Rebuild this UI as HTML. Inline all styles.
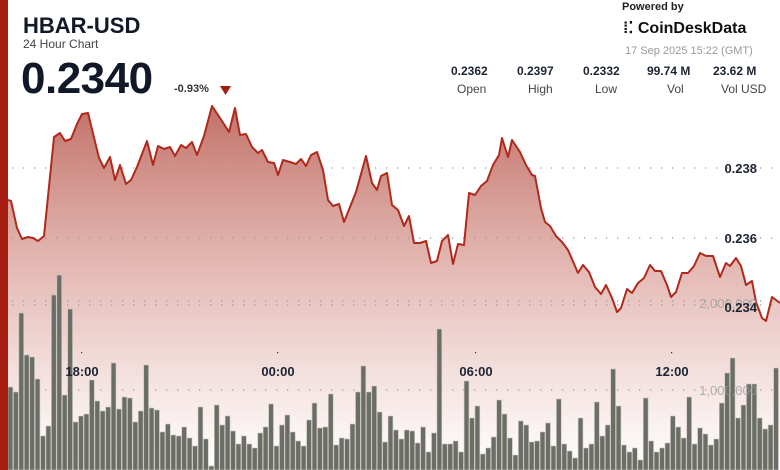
<!DOCTYPE html><html><head><style>
body{margin:0;width:780px;height:470px;overflow:hidden;background:#fff;font-family:"Liberation Sans",sans-serif;position:relative}
.t{position:absolute;white-space:nowrap}
</style></head><body>
<svg width="780" height="470" style="position:absolute;left:0;top:0">
<defs>
<linearGradient id="g" gradientUnits="userSpaceOnUse" x1="0" y1="100" x2="0" y2="470">
<stop offset="0" stop-color="#b5554a" stop-opacity="0.85"/>
<stop offset="0.45" stop-color="#d89a92" stop-opacity="0.7"/>
<stop offset="1" stop-color="#ffffff" stop-opacity="0.6"/>
</linearGradient>
</defs>
<g id="area"></g>
<g stroke="#999" stroke-width="1.3" stroke-dasharray="1.3 9.7" fill="none">
<line x1="12" y1="168" x2="780" y2="168"/>
<line x1="12" y1="238" x2="780" y2="238"/>
<line x1="12" y1="301" x2="780" y2="301"/>
<line x1="12" y1="305" x2="780" y2="305"/>
<line x1="12" y1="390" x2="780" y2="390"/>
</g>
<g id="bars" fill="#6b6e66" stroke="#c9c4bf" stroke-width="0.6"></g>
<path id="ln" fill="none" stroke="#b0291d" stroke-width="2" stroke-linejoin="round"/>
<g fill="#999" font-size="13" font-family="Liberation Sans,sans-serif" text-anchor="end" opacity="0.75">
<text x="757" y="308">2,000,000</text>
<text x="757" y="395">1,000,000</text>
</g>
<g fill="#1c2433" font-size="13" font-weight="bold" font-family="Liberation Sans,sans-serif" text-anchor="end">
<text x="757" y="173">0.238</text>
<text x="757" y="243">0.236</text>
<text x="757" y="312">0.234</text>
</g>
<g fill="#1c2433" font-size="13" font-weight="bold" font-family="Liberation Sans,sans-serif" text-anchor="middle">
<text x="82" y="376">18:00</text><text x="278" y="376">00:00</text><text x="476" y="376">06:00</text><text x="672" y="376">12:00</text>
</g>
<g fill="#333"><rect x="81" y="352" width="1.2" height="1.2"/><rect x="277" y="352" width="1.2" height="1.2"/><rect x="475" y="352" width="1.2" height="1.2"/><rect x="671" y="352" width="1.2" height="1.2"/></g>
<rect x="0" y="0" width="8" height="470" fill="#a51c10"/>
<path d="M220 86 L231 86 L225.5 95 Z" fill="#a51c10"/>
</svg>
<div class="t" style="left:23px;top:13px;font-size:22px;font-weight:bold;color:#111827">HBAR-USD</div>
<div class="t" style="left:23px;top:37px;font-size:12px;color:#444">24 Hour Chart</div>
<div class="t" style="left:21px;top:54px;font-size:44px;font-weight:bold;color:#111827;letter-spacing:-0.5px">0.2340</div>
<div class="t" style="left:174px;top:83px;font-size:11px;font-weight:bold;color:#333">-0.93%</div>
<div class="t" style="left:622px;top:1px;font-size:11px;font-weight:bold;color:#222">Powered by</div>
<div class="t" style="left:623px;top:18px;font-size:16px;font-weight:bold;color:#111">⁞⁚ CoinDeskData</div>
<div class="t" style="left:625px;top:45px;font-size:11px;color:#999">17 Sep 2025 15:22 (GMT)</div>
<div class="t" style="left:451px;top:64px;font-size:12px;font-weight:bold;color:#1c2433;width:330px">
<span style="position:absolute;left:0">0.2362</span><span style="position:absolute;left:66px">0.2397</span><span style="position:absolute;left:132px">0.2332</span><span style="position:absolute;left:196px">99.74 M</span><span style="position:absolute;left:262px">23.62 M</span></div>
<div class="t" style="left:451px;top:82px;font-size:12px;color:#444;width:330px">
<span style="position:absolute;left:6px">Open</span><span style="position:absolute;left:77px">High</span><span style="position:absolute;left:144px">Low</span><span style="position:absolute;left:216px">Vol</span><span style="position:absolute;left:270px">Vol USD</span></div>
<script>
var p=[[8,200],[11,201],[17,228],[22,239],[28,237],[33,238],[38,241],[44,236],[54,137],[60,133],[65,141],[71,139],[77,124],[82,114],[88,113],[99,158],[104,168],[110,157],[115,180],[120,165],[126,184],[131,180],[137,167],[147,141],[153,165],[158,146],[164,149],[170,147],[175,156],[181,145],[186,148],[192,142],[197,155],[204,136],[212,106],[222,121],[229,132],[235,108],[240,135],[246,134],[252,147],[258,153],[262,150],[268,162],[274,163],[278,175],[283,160],[290,162],[296,164],[301,159],[306,166],[311,155],[317,152],[323,170],[328,200],[333,206],[339,204],[344,222],[348,212],[356,192],[366,156],[372,183],[377,190],[381,176],[387,173],[392,205],[398,210],[404,226],[409,216],[414,243],[420,243],[426,241],[431,263],[437,261],[442,241],[448,235],[453,264],[458,244],[464,245],[469,193],[475,195],[481,186],[487,181],[493,165],[499,155],[502,138],[508,157],[512,140],[520,152],[526,165],[532,175],[535,176],[541,208],[545,222],[550,226],[556,236],[562,242],[568,250],[578,273],[583,265],[589,272],[595,287],[601,294],[606,285],[612,298],[617,312],[621,308],[627,289],[632,293],[638,283],[644,278],[650,265],[655,271],[661,271],[667,285],[671,297],[676,292],[682,273],[688,273],[694,266],[700,253],[706,256],[713,256],[720,277],[726,263],[730,266],[736,258],[741,266],[746,285],[752,281],[756,302],[762,318],[766,321],[772,297],[780,303]];
var d=p.map((q,i)=>(i?'L':'M')+q[0]+' '+q[1]).join(' ');
document.getElementById('ln').setAttribute('d',d);
var ns='http://www.w3.org/2000/svg';
var a=document.createElementNS(ns,'path');a.setAttribute('d',d+' L780 470 L8 470 Z');a.setAttribute('fill','url(#g)');
document.getElementById('area').appendChild(a);
var b=[387,392,313,355,357,379,436,426,295,275,395,309,422,416,414,380,401,411,407,363,409,397,398,422,411,365,408,410,432,424,435,436,427,438,446,407,439,466,405,425,416,431,444,436,444,448,433,427,404,446,425,415,432,441,446,420,403,428,427,394,445,438,439,424,392,366,392,386,412,442,416,
430,439,430,431,443,427,452,433,329,444,444,441,452,381,418,406,454,448,437,400,414,438,455,421,425,442,441,432,423,446,399,444,451,458,418,448,444,402,436,425,369,406,445,452,448,460,398,441,452,448,443,416,427,438,397,444,428,434,445,439,403,373,358,418,405,384,384,418,429,425,368];
var g=document.getElementById('bars');
b.forEach((y,i)=>{var r=document.createElementNS(ns,'rect');var x=8+i*5.43;r.setAttribute('x',x.toFixed(2));r.setAttribute('y',y);r.setAttribute('width',4.8);r.setAttribute('height',470-y);g.appendChild(r);});
</script>
</body></html>
